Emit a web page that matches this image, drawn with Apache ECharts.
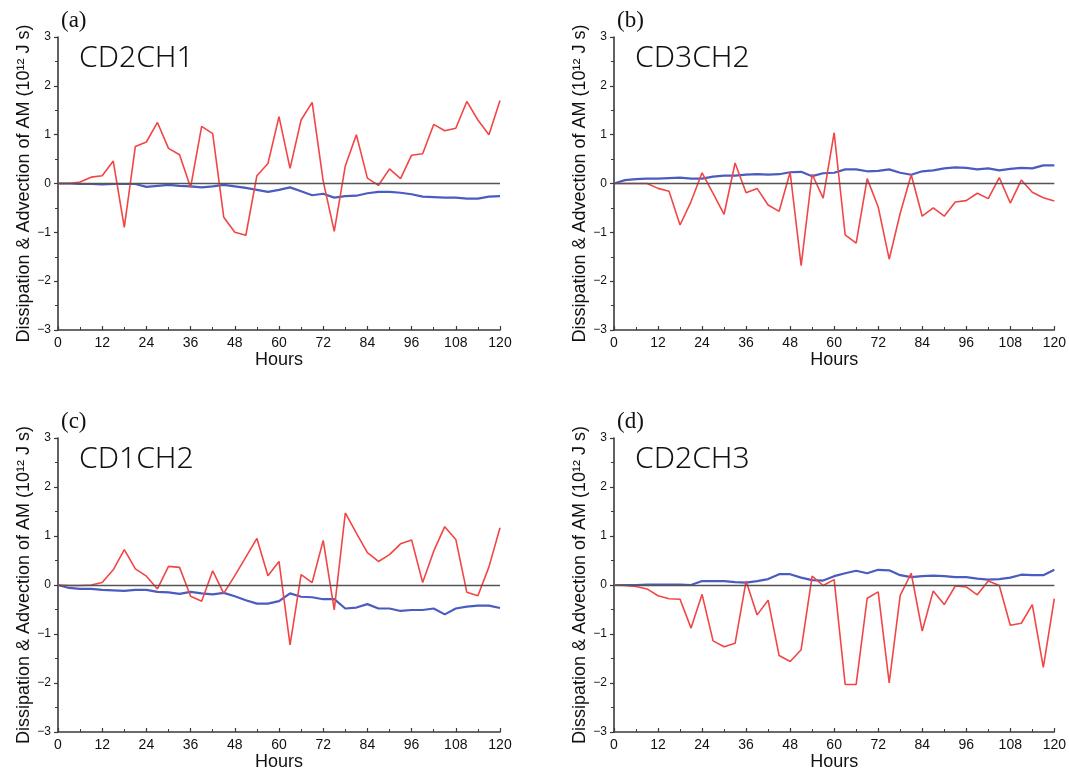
<!DOCTYPE html>
<html><head><meta charset="utf-8">
<script src="https://cdn.jsdelivr.net/npm/echarts@6/dist/echarts.min.js"></script>
<style>html,body{margin:0;padding:0;background:#fff}#c{width:1069px;height:772px}</style>
</head><body><div id="c"></div>
<script>
const hours = [0,3,6,9,12,15,18,21,24,27,30,33,36,39,42,45,48,51,54,57,60,63,66,69,72,75,78,81,84,87,90,93,96,99,102,105,108,111,114,117,120];
const panelLabels = ['(a)','(b)','(c)','(d)'];
const panelNames = ['CD2CH1','CD3CH2','CD1CH2','CD2CH3'];
const yAxisName = 'Dissipation & Advection of AM (10\u00b9\u00b2 J s)';
const xAxisName = 'Hours';

const redA = [0,0,0.03,0.13,0.16,0.46,-0.9,0.76,0.85,1.25,0.72,0.59,-0.08,1.17,1.02,-0.69,-1.0,-1.06,0.16,0.41,1.37,0.31,1.30,1.66,0.05,-0.98,0.36,1.0,0.11,-0.04,0.30,0.10,0.58,0.61,1.21,1.08,1.13,1.68,1.30,1.0,1.70];
const blueA = [0,0,-0.01,-0.01,-0.02,-0.01,-0.01,-0.01,-0.07,-0.05,-0.03,-0.05,-0.06,-0.08,-0.06,-0.03,-0.06,-0.09,-0.13,-0.17,-0.13,-0.08,-0.16,-0.24,-0.21,-0.29,-0.26,-0.25,-0.20,-0.17,-0.17,-0.19,-0.22,-0.27,-0.28,-0.29,-0.29,-0.31,-0.31,-0.27,-0.26];
const redB = [0,0,0,0,-0.1,-0.16,-0.85,-0.37,0.22,-0.2,-0.63,0.42,-0.19,-0.1,-0.44,-0.57,0.23,-1.68,0.19,-0.3,1.04,-1.05,-1.22,0.1,-0.48,-1.55,-0.61,0.18,-0.67,-0.5,-0.67,-0.38,-0.35,-0.2,-0.31,0.12,-0.4,0.07,-0.18,-0.29,-0.36];
const blueB = [0,0.07,0.09,0.1,0.1,0.11,0.12,0.1,0.1,0.14,0.16,0.16,0.18,0.19,0.18,0.19,0.23,0.24,0.15,0.21,0.22,0.29,0.29,0.25,0.26,0.29,0.22,0.18,0.25,0.27,0.31,0.33,0.32,0.29,0.31,0.27,0.3,0.32,0.31,0.37,0.37];
const redC = [0,-0.01,-0.01,0,0.05,0.31,0.72,0.33,0.18,-0.08,0.38,0.36,-0.23,-0.33,0.29,-0.17,0.19,0.57,0.95,0.19,0.48,-1.22,0.21,0.05,0.91,-0.51,1.47,1.06,0.66,0.48,0.62,0.84,0.92,0.05,0.69,1.19,0.93,-0.15,-0.22,0.37,1.17];
const blueC = [0,-0.06,-0.08,-0.08,-0.1,-0.11,-0.12,-0.1,-0.1,-0.14,-0.15,-0.18,-0.14,-0.17,-0.19,-0.16,-0.23,-0.31,-0.38,-0.38,-0.33,-0.17,-0.24,-0.25,-0.29,-0.29,-0.48,-0.46,-0.39,-0.48,-0.48,-0.53,-0.51,-0.51,-0.48,-0.6,-0.48,-0.44,-0.42,-0.42,-0.47];
const redD = [0,-0.01,-0.03,-0.08,-0.22,-0.28,-0.29,-0.88,-0.19,-1.14,-1.26,-1.19,0.08,-0.61,-0.31,-1.44,-1.56,-1.32,0.18,-0.01,0.11,-2.03,-2.03,-0.27,-0.14,-2.0,-0.21,0.24,-0.94,-0.12,-0.4,-0.02,-0.04,-0.2,0.08,-0.01,-0.82,-0.78,-0.4,-1.68,-0.28];
const blueD = [0,0,0,0.01,0.01,0.01,0.01,0,0.08,0.08,0.08,0.06,0.05,0.08,0.12,0.22,0.22,0.15,0.1,0.09,0.18,0.24,0.29,0.24,0.31,0.3,0.2,0.16,0.18,0.19,0.18,0.16,0.16,0.13,0.11,0.12,0.15,0.21,0.2,0.2,0.31];

const reds = [redA, redB, redC, redD];
const blues = [blueA, blueB, blueC, blueD];

const gridPos = [
  {left:58, top:37, width:442, height:293},
  {left:614, top:37, width:442, height:293},
  {left:58, top:438, width:442, height:294},
  {left:614, top:438, width:442, height:294}
];
const axisColor = '#3a3a3a';
const sans = '"Liberation Sans", Arial, sans-serif';

const option = {
  animation:false,
  backgroundColor:'#fff',
  title: [],
  grid: gridPos.map(g => Object.assign({containLabel:false}, g)),
  xAxis: [], yAxis: [], series: []
};

gridPos.forEach((g, i) => {
  option.title.push({
    text: panelLabels[i], left: g.left - 2, top: g.top - 33,
    textStyle:{fontFamily:'"Liberation Serif", "Times New Roman", serif', fontSize:23, fontWeight:'normal', color:'#111'}
  });
  option.title.push({
    text: panelNames[i], left: g.left + 16, top: g.top + 1,
    textStyle:{fontFamily:'"Noto Sans", sans-serif', fontSize:30, fontWeight:300, color:'#111'}
  });
  option.xAxis.push({
    type:'value', gridIndex:i, min:0, max:120, interval:12,
    name: xAxisName, nameLocation:'middle', nameGap:21,
    nameTextStyle:{fontFamily:sans, fontSize:18, color:'#111'},
    axisLine:{show:true, onZero:false, lineStyle:{color:axisColor, width:1.6}},
    axisTick:{show:true, inside:true, length:4, lineStyle:{color:axisColor, width:1.2}},
    minorTick:{show:true, splitNumber:2, length:3, lineStyle:{color:axisColor, width:1}},
    axisLabel:{margin:6, fontFamily:sans, fontSize:14, color:'#111'},
    splitLine:{show:false}
  });
  option.yAxis.push({
    type:'value', gridIndex:i, min:-3, max:3, interval:1,
    name: yAxisName, nameLocation:'middle', nameGap:25,
    nameTextStyle:{fontFamily:sans, fontSize:18, color:'#111'},
    axisLine:{show:true, onZero:false, lineStyle:{color:axisColor, width:1.6}},
    axisTick:{show:true, length:4, lineStyle:{color:axisColor, width:1.2}},
    minorTick:{show:true, splitNumber:2, length:3, lineStyle:{color:axisColor, width:1}},
    axisLabel:{margin:7, fontFamily:sans, fontSize:12, color:'#111',
      formatter: v => (v < 0 ? '\u2212' + (-v) : String(v))},
    splitLine:{show:false}
  });
  option.series.push({
    type:'line', xAxisIndex:i, yAxisIndex:i, symbol:'none', silent:true,
    data: hours.map((h, k) => [h, blues[i][k]]),
    lineStyle:{color:'#4a5cbf', width:2.2}, z:3,
    markLine:{silent:true, symbol:['none','none'], label:{show:false},
      lineStyle:{color:'#555', type:'solid', width:1.3},
      data:[{yAxis:0}]}
  });
  option.series.push({
    type:'line', xAxisIndex:i, yAxisIndex:i, symbol:'none', silent:true,
    data: hours.map((h, k) => [h, reds[i][k]]),
    lineStyle:{color:'#f24545', width:1.6}, z:4
  });
});

const chart = echarts.init(document.getElementById('c'), null, {renderer:'canvas'});
chart.setOption(option);
</script>
</body></html>
